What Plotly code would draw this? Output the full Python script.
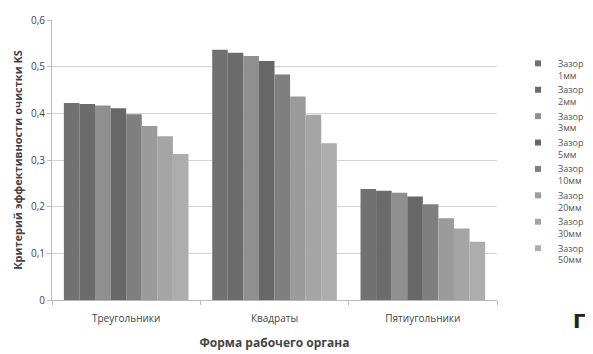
import plotly.graph_objects as go

categories = ["Треугольники", "Квадраты", "Пятиугольники"]
series_names = ["Зазор 1мм", "Зазор 2мм", "Зазор 3мм", "Зазор 5мм",
                "Зазор 10мм", "Зазор 20мм", "Зазор 30мм", "Зазор 50мм"]
values = [
    [0.422, 0.536, 0.238],
    [0.420, 0.530, 0.234],
    [0.417, 0.523, 0.230],
    [0.411, 0.512, 0.222],
    [0.398, 0.483, 0.205],
    [0.373, 0.436, 0.175],
    [0.351, 0.397, 0.153],
    [0.313, 0.336, 0.125],
]
colors = ["#717171", "#6b6b6b", "#8f8f8f", "#676767",
          "#7f7f7f", "#9b9b9b", "#a5a5a5", "#adadad"]
ytick_vals = [0, 0.1, 0.2, 0.3, 0.4, 0.5, 0.6]
ytick_text = ["0", "0,1", "0,2", "0,3", "0,4", "0,5", "0,6"]

font = "Open Sans"
fig = go.Figure()
for i, (name, vals, c) in enumerate(zip(series_names, values, colors)):
    fig.add_trace(go.Bar(x=categories, y=vals, name=name, legendgroup=str(i),
                         showlegend=False,
                         marker=dict(color=c, line=dict(width=0))))
    # legend entry with a small square swatch
    fig.add_trace(go.Scatter(x=[None], y=[None], mode="markers",
                             name=name.replace(" ", "<br>"), legendgroup=str(i),
                             showlegend=True,
                             marker=dict(symbol="square", size=6, color=c)))

# page has an 8px body margin; figure coordinates are offset accordingly
W, H = 585, 346
L, R, T, B = 44, 96, 12, 54
pw, ph = W - L - R, H - T - B

fig.update_layout(
    width=W, height=H,
    margin=dict(l=L, r=R, t=T, b=B, autoexpand=False),
    paper_bgcolor="white", plot_bgcolor="white",
    barmode="group", bargap=0.16, bargroupgap=0,
    font=dict(family=font, size=10, color="#444444"),
    showlegend=True,
    legend=dict(x=(510 - L) / pw, y=(H - B - 43) / ph, xanchor="left", yanchor="top",
                font=dict(size=9, color="#555555"), valign="top",
                itemwidth=30, tracegroupgap=0, traceorder="normal",
                bgcolor="rgba(0,0,0,0)"),
    xaxis=dict(showline=True, linecolor="#bbbbbb", linewidth=1,
               ticks="outside", tickson="boundaries", ticklen=4, tickcolor="#bbbbbb",
               ticklabelstandoff=9,
               tickfont=dict(size=10, color="#444444"),
               title=dict(text="<b>Форма рабочего органа</b>", standoff=14,
                          font=dict(size=12, color="#444444"))),
    yaxis=dict(range=[0, 0.6], tickvals=ytick_vals, ticktext=ytick_text,
               showgrid=True, gridcolor="#d4d4d4", gridwidth=1,
               showline=True, linecolor="#bbbbbb", linewidth=1,
               ticks="outside", ticklen=4, tickcolor="#bbbbbb",
               zeroline=False,
               tickfont=dict(size=10, color="#444444"),
               title=dict(text="<b>Критерий эффективности очистки KS</b>", standoff=6,
                          font=dict(size=11, color="#444444"))),
    annotations=[dict(text="<b>Г</b>", x=(571 - L) / pw, y=(H - B - 313) / ph,
                      xref="paper", yref="paper", xanchor="center", yanchor="middle",
                      showarrow=False,
                      font=dict(size=20, color="#222222", family="DejaVu Sans"))],
)

fig.write_html("out.html")
